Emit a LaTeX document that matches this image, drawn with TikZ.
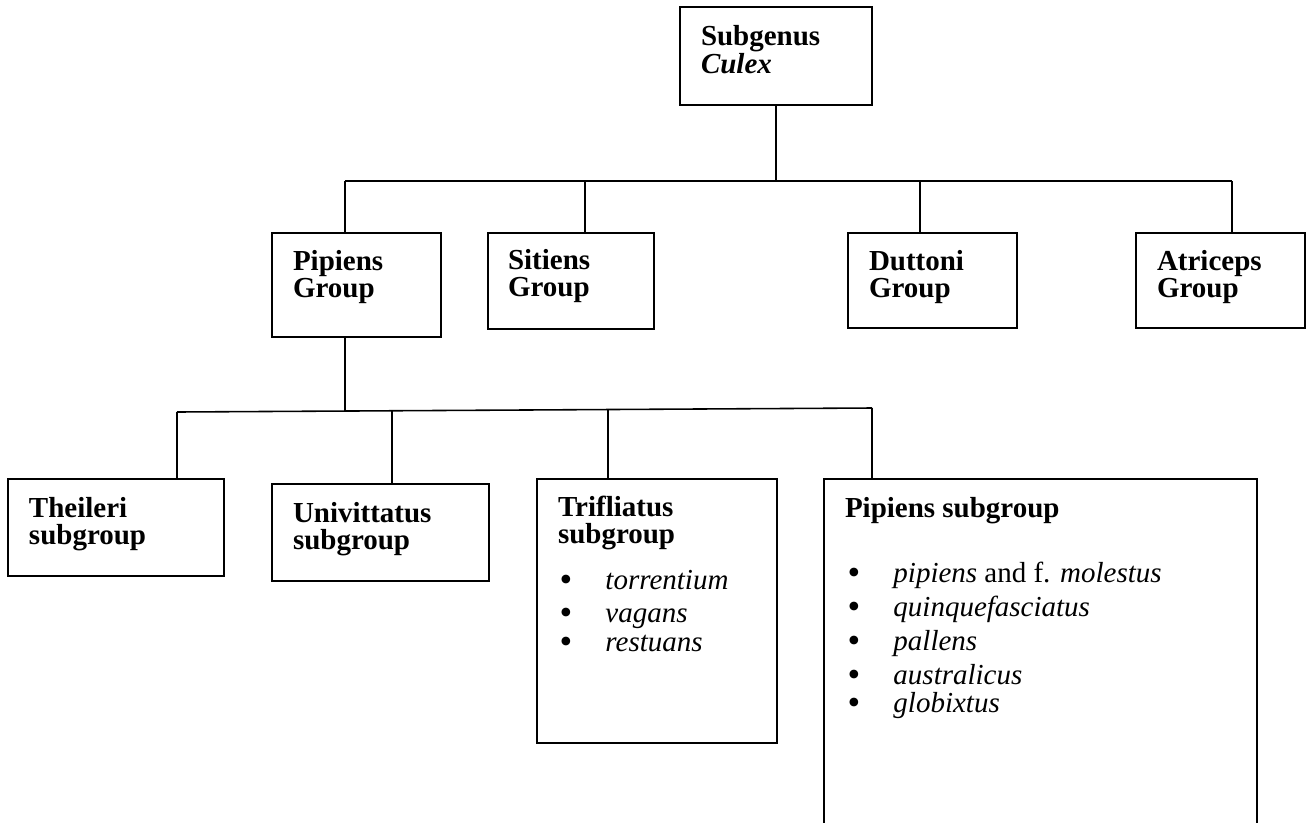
\documentclass[tikz,border=0pt]{standalone}
\usepackage{fontspec}
\usepackage{graphicx}
\setmainfont{Liberation Serif}
\usetikzlibrary{positioning}
\newcommand{\topstrut}{\rule{0pt}{0.45cm}}
\newcommand{\bulitem}[1]{\makebox[0.92cm][l]{\smash{\raisebox{-0.06em}{\scalebox{1.25}{\textbullet}}}}#1}

\begin{document}
\begin{tikzpicture}[x=0.02cm,y=-0.02cm,font=\fontsize{16.5}{15.9}\selectfont]
        \tikzstyle{box}=[rectangle,draw=black,line width=1.1pt,anchor=north west,inner sep=0pt,outer sep=0pt]
        \tikzstyle{head}=[anchor=north west,inner sep=0pt,outer sep=0pt,align=left,font=\fontsize{16.5}{15.9}\selectfont\bfseries]
        \tikzstyle{items}=[anchor=north west,inner sep=0pt,outer sep=0pt,align=left]
        \tikzstyle{link}=[line width=0.9pt]
        \clip (0,0) rectangle (1311,822);
        % boxes
        \node[box,minimum width=3.84cm,minimum height=1.96cm] (subgenus) at (680,7) {};
        \node[box,minimum width=3.38cm,minimum height=2.08cm] (pipgrp) at (272,233) {};
        \node[box,minimum width=3.32cm,minimum height=1.92cm] (sitiens) at (488,233) {};
        \node[box,minimum width=3.38cm,minimum height=1.90cm] (duttoni) at (848,233) {};
        \node[box,minimum width=3.38cm,minimum height=1.90cm] (atriceps) at (1136,233) {};
        \node[box,minimum width=4.32cm,minimum height=1.94cm] (theileri) at (8,479) {};
        \node[box,minimum width=4.34cm,minimum height=1.94cm] (univitt) at (272,484) {};
        \node[box,minimum width=4.80cm,minimum height=5.28cm] (trifl) at (537,479) {};
        \node[box,minimum width=8.66cm,minimum height=7.40cm] (pipsub) at (824,479) {};
        % texts
        \node[head,below right=0.32cm and 0.42cm of subgenus.north west] (subgenustxt) {\topstrut Subgenus\\\textit{Culex}};
        \node[head,below right=0.29cm and 0.42cm of pipgrp.north west] (pipgrptxt) {\topstrut Pipiens\\Group};
        \node[head,below right=0.27cm and 0.40cm of sitiens.north west] (sitienstxt) {\topstrut Sitiens\\Group};
        \node[head,below right=0.29cm and 0.42cm of duttoni.north west] (duttonitxt) {\topstrut Duttoni\\Group};
        \node[head,below right=0.29cm and 0.42cm of atriceps.north west] (atricepstxt) {\topstrut Atriceps\\Group};
        \node[head,below right=0.31cm and 0.42cm of theileri.north west] (theileritxt) {\topstrut Theileri\\subgroup};
        \node[head,below right=0.31cm and 0.42cm of univitt.north west] (univitttxt) {\topstrut Univittatus\\subgroup};
        \node[head,below right=0.29cm and 0.42cm of trifl.north west] (trifltxt) {\topstrut Trifliatus\\subgroup};
        \node[head,below right=0.31cm and 0.42cm of pipsub.north west] (pipsubtxt) {\topstrut Pipiens subgroup};
        \node[items,below right=1.77cm and 0.45cm of trifl.north west] (trifllist) {\topstrut\bulitem{\textit{torrentium}}\\[0.1cm]\bulitem{\textit{vagans}}\\[0.02cm]\bulitem{\textit{restuans}}};
        \node[items,below right=1.63cm and 0.47cm of pipsub.north west] (pipsublist) {\topstrut\bulitem{\textit{pipiens} and f. \textit{molestus}}\\[0.12cm]\bulitem{\textit{quinquefasciatus}}\\[0.12cm]\bulitem{\textit{pallens}}\\[0.12cm]\bulitem{\textit{australicus}}\\\bulitem{\textit{globixtus}}};
        % connectors
        \coordinate (c1) at (345,181);
        \coordinate (c2) at (585,181);
        \coordinate (c3) at (920,181);
        \coordinate (c4) at (1232,181);
        \draw[link] (subgenus.south) -- (subgenus.south |- c1);
        \draw[link] (c1) -- (c4);
        \foreach \c/\n in {c1/pipgrp,c2/sitiens,c3/duttoni,c4/atriceps}
            \draw[link] (\c) -- (\c |- \n.north);
        \coordinate (p0) at (345,411);
        \coordinate (s1) at (177,412);
        \coordinate (s2) at (392,411);
        \coordinate (s3) at (608,409.5);
        \coordinate (s4) at (872,408);
        \draw[link] (p0 |- pipgrp.south) -- (p0);
        \draw[link] (s1) -- (s4);
        \foreach \c/\n in {s1/theileri,s2/univitt,s3/trifl,s4/pipsub}
            \draw[link] (\c) -- (\c |- \n.north);
\end{tikzpicture}
\end{document}
